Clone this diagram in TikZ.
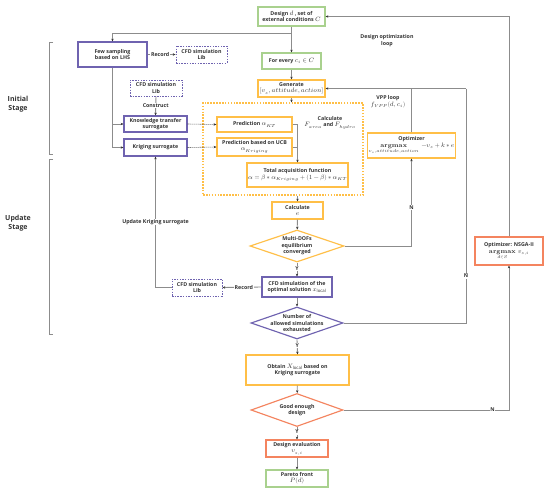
\documentclass[tikz,border=0pt]{standalone}
\usepackage{fontspec}
\usepackage{amsmath}
\usepackage{unicode-math}
\setmainfont{Open Sans}
\setmathfont{Latin Modern Math}
\DeclareMathSizes{5.3}{6.3}{4.3}{3.3}
\usetikzlibrary{shapes.geometric,arrows.meta,calc}
\definecolor{cgreen}{HTML}{A9D18E}
\definecolor{corange}{HTML}{FFBF47}
\definecolor{csalmon}{HTML}{F4845F}
\definecolor{cpurple}{HTML}{6F63B0}
\definecolor{cline}{HTML}{8C8C8C}
\definecolor{ctext}{HTML}{333333}
\begin{document}
\begin{tikzpicture}[x=1pt,y=-1pt,
  every node/.style={font=\fontsize{5.3}{6.4}\selectfont\bfseries, text=ctext},
  box/.style={draw, line width=1.15pt, fill=white, align=center, inner sep=1pt},
  gbox/.style={box, draw=cgreen},
  obox/.style={box, draw=corange},
  sbox/.style={box, draw=csalmon},
  pbox/.style={box, draw=cpurple},
  pdash/.style={box, draw=cpurple, dash pattern=on 1.5pt off 1.2pt, line width=0.85pt},
  dia/.style={diamond, draw, line width=1.15pt, inner sep=0pt, fill=white},
  txt/.style={align=center, inner sep=0.5pt},
  lbl/.style={fill=white, inner sep=0.6pt},
  line/.style={draw=cline, line width=0.9pt},
  arr/.style={line, -{Stealth[length=2.8pt,width=2.4pt,color=ctext]}},
  darr/.style={draw=ctext, line width=0.6pt, dash pattern=on 1pt off 1pt, -{Stealth[length=2.8pt,width=2.4pt]}},
  brk/.style={draw=cline, line width=0.8pt}
]
\useasboundingbox (0,0) rectangle (550,491);

% acquisition dotted area
\node[draw=corange, line width=1.2pt, dash pattern=on 1.6pt off 1.3pt, minimum width=160pt, minimum height=92pt, inner sep=0pt] (acq) at (283,149) {};

% main column
\node[gbox, minimum width=67pt, minimum height=19pt] (design) at (291.5,16.5) {Design $d$ , set of\\external conditions $C$};
\node[gbox, minimum width=59pt, minimum height=16pt] (forevery) at (291.5,61) {For every $c_i \in C$};
\node[obox, minimum width=67pt, minimum height=17pt] (generate) at (291.5,88.5) {Generate\\$[v_s, attitude, action]$};
\node[obox, minimum width=75pt, minimum height=15pt] (predKT) at (254.5,124.5) {Prediction $\alpha_{KT}$};
\node[obox, minimum width=75pt, minimum height=18pt] (predUCB) at (254.5,147) {Prediction based on UCB\\$\alpha_{Kriging}$};
\node[obox, minimum width=101pt, minimum height=24pt] (total) at (297.5,175) {Total acquisition function\\$\alpha = \beta * \alpha_{Kriging} + (1-\beta) * \alpha_{KT}$};
\node[txt] (calcF) at (330,122.5) {Calculate\\$F_{area}$ and $F_{hydro}$};
\node[obox, minimum width=51pt, minimum height=17pt] (calce) at (297.5,210.5) {Calculate\\$e$};

\node[dia, draw=corange, minimum width=94pt, minimum height=32pt] (d1) at (297,246) {};
\node[txt] at (d1) {Multi-DOFs\\equilibrium\\converged};
\node[pbox, minimum width=70pt, minimum height=20pt] (cfdopt) at (297,287) {CFD simulation of the\\optimal solution $x_{\mathrm{local}}$};
\node[dia, draw=cpurple, minimum width=92pt, minimum height=32pt] (d2) at (297,323) {};
\node[txt] at (d2) {Number of\\allowed simulations\\exhausted};
\node[obox, minimum width=103pt, minimum height=30pt] (obtain) at (297.5,370) {Obtain $X_{\mathrm{local}}$ based on\\Kriging surrogate};
\node[dia, draw=csalmon, minimum width=92pt, minimum height=33pt] (d3) at (297,410) {};
\node[txt] at (d3) {Good enough\\design};
\node[sbox, minimum width=62pt, minimum height=17pt] (deval) at (297,448.5) {Design evaluation\\$v_{s,i}$};
\node[gbox, minimum width=62pt, minimum height=17pt] (pareto) at (297,478.5) {Pareto front\\$P(d)$};

% right side
\node[obox, minimum width=87pt, minimum height=25pt] (optim) at (411.5,145.5) {Optimizer\\$\mathop{\symbfup{argmax}}\limits_{v_s,attitude,action}\; -v_s + k * e$};
\node[sbox, minimum width=68pt, minimum height=28pt] (nsga) at (509,251) {Optimizer: NSGA-II\\$\mathop{\symbfup{argmax}}\limits_{d\in S}\, v_{s,i}$};
\node[txt] (doloop) at (387,40.5) {Design optimization\\loop};
\node[txt] (vpploop) at (388,102) {VPP loop\\$f_{VPP}(d, c_i)$};

% left side
\node[pbox, minimum width=69pt, minimum height=25pt] (few) at (112.5,54.5) {Few sampling\\based on LHS};
\node[pdash, minimum width=51pt, minimum height=17pt] (lib1) at (201.5,54.5) {CFD simulation\\Lib};
\node[pdash, minimum width=52pt, minimum height=16pt] (lib2) at (156,88) {CFD simulation\\Lib};
\node[pbox, minimum width=63pt, minimum height=16pt] (kt) at (155.5,124) {Knowledge transfer\\surrogate};
\node[pbox, minimum width=63pt, minimum height=17pt] (krig) at (155.5,147.5) {Kriging surrogate};
\node[pdash, minimum width=50pt, minimum height=17pt] (lib3) at (197,287.5) {CFD simulation\\Lib};

\node[txt, font=\fontsize{7}{8.5}\selectfont\bfseries] (initial) at (18,104) {Initial\\Stage};
\node[txt, font=\fontsize{7}{8.5}\selectfont\bfseries] (update) at (18,223) {Update\\Stage};
\draw[brk] (53,42) -- (49,42) -- (49,154) -- (53,154);
\draw[brk] (53,159) -- (49,159) -- (49,334) -- (53,334);

% connectors
\coordinate (j1) at (291.5,33);
\draw[line] (design.south) -- (j1);
\draw[arr] (j1) -- (forevery.north);
\draw[arr] (j1) -| (few.north);
\draw[arr] (forevery) -- (generate);
\draw[arr] (generate.south) -- (generate.south |- acq.north);
\draw[arr] (predKT.east) -| (total.north);
\draw[line] (predUCB.east) -- (predUCB.east -| total.north);
\draw[arr] (acq.south -| calce.north) -- (calce.north);
\draw[arr] (calce) -- (d1);
\draw[arr] (d1.south) -- node[lbl, pos=0.4] {Y} (cfdopt.north);
\draw[arr] (cfdopt) -- (d2);
\draw[arr] (d2.south) -- node[lbl, pos=0.4] {Y} (obtain.north);
\draw[arr] (obtain) -- (d3);
\draw[arr] (d3.south) -- node[lbl, pos=0.4] {Y} (deval.north);
\draw[arr] (deval) -- (pareto);

\draw[arr] (d1.east) -| node[lbl, pos=0.72] {N} (optim.south);
\draw[arr] (optim.north) |- (generate.east);
\coordinate (vtop) at (466,88.5);
\draw[line] (d2.east) -| node[lbl, pos=0.6] {N} (vtop);
\draw[line] (vtop) -- (optim.north |- vtop);
\draw[arr] (d3.east) -| node[lbl, pos=0.45] {N} (nsga.south);
\draw[arr] (nsga.north) |- (design.east);

\draw[arr] (few.east) -- node[lbl, pos=0.45] {Record} (lib1.west);
\draw[arr] (lib2.south) -- node[lbl] {Construct} (kt.north);
\draw[arr] (few.south) |- (krig.west);
\draw[arr] (few.south |- kt.west) -- (kt.west);
\draw[darr] (kt.east) -- (predKT.west);
\draw[darr] (krig.east) -- (predUCB.west);
\draw[arr] (cfdopt.west) -- node[lbl, pos=0.45] {Record} (lib3.east);
\draw[arr] (lib3.west) -| node[lbl, pos=0.75] {Update Kriging surrogate} (krig.south);
\end{tikzpicture}
\end{document}
